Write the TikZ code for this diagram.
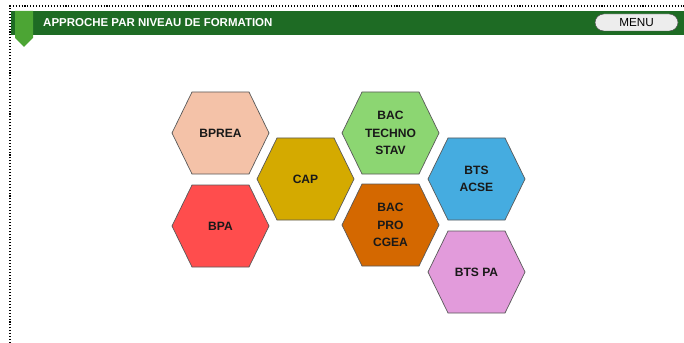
\documentclass[tikz,border=0pt]{standalone}
\usepackage{fontspec}
\setmainfont{Liberation Sans}
\usetikzlibrary{positioning}

\definecolor{bandeau}{RGB}{30,107,36}
\definecolor{signet}{RGB}{76,165,52}
\definecolor{cBPREA}{RGB}{244,194,168}
\definecolor{cBPA}{RGB}{255,77,77}
\definecolor{cCAP}{RGB}{212,170,0}
\definecolor{cTECHNO}{RGB}{140,214,114}
\definecolor{cPRO}{RGB}{212,104,0}
\definecolor{cACSE}{RGB}{69,172,224}
\definecolor{cPA}{RGB}{226,155,219}

% hexagone : nom, x, y, couleur, texte
\newcommand{\hexa}[5]{%
	\filldraw[hexline, fill=#4] ({#2-48.5},#3) -- ++(20,-41) -- ++(57,0) -- ++(20,41) -- ++(-20,41) -- ++(-57,0) -- cycle;
	\node[hextext] (#1) at (#2,#3) {#5};
}

\begin{document}
\begin{tikzpicture}[x=0.03cm, y=-0.03cm,
	hexline/.style={draw=black!65, line width=0.6pt},
	hextext/.style={align=center, font=\bfseries\fontsize{10.3}{14.8}\selectfont, text=black!90},
	menubtn/.style={draw=black!70, fill=black!7, rounded corners=7.5, minimum width=83*0.03cm, minimum height=17*0.03cm, inner sep=0pt, font=\fontsize{10}{11}\selectfont}]
	\useasboundingbox (0,0) rectangle (684,343);
	
	% cadre pointille
	\draw[line width=1pt, dash pattern=on 0.9pt off 1.6pt] (10,343) -- (10,6) -- (684,6);
	
	% bandeau
	\fill[bandeau] (11,11) rectangle (684,35);
	\fill[signet] (15,11) -- (33,11) -- (33,38) -- (24,47) -- (15,38) -- cycle;
	\node[anchor=west, text=white, inner sep=0pt, font=\bfseries\fontsize{9.8}{11}\selectfont] (titre) at (43,23) {APPROCHE PAR NIVEAU DE FORMATION};
	\node[menubtn] (menu) at (636.5,22.5) {MENU};
	
	% formations
	\hexa{bprea}{220.5}{133}{cBPREA}{BPREA}
	\hexa{bpa}{220.5}{226}{cBPA}{BPA}
	\hexa{cap}{305.5}{179}{cCAP}{CAP}
	\hexa{techno}{390.5}{133}{cTECHNO}{BAC\\TECHNO\\STAV}
	\hexa{pro}{390.5}{225}{cPRO}{BAC\\PRO\\CGEA}
	\hexa{acse}{476.5}{179}{cACSE}{BTS\\ACSE}
	\hexa{btspa}{476.5}{272}{cPA}{BTS PA}
\end{tikzpicture}
\end{document}
